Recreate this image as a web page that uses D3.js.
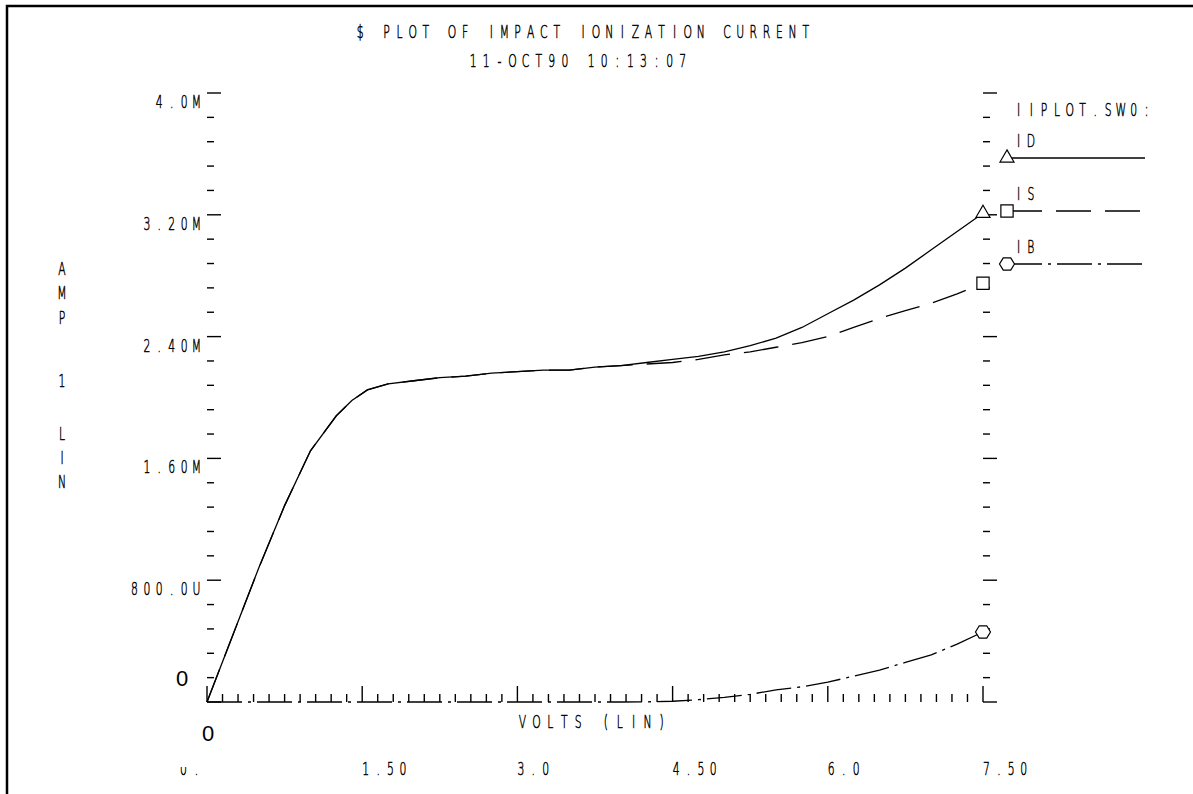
<!DOCTYPE html>
<html>
<head>
<meta charset="utf-8">
<script src="https://cdn.jsdelivr.net/npm/d3@7.9.0/dist/d3.min.js"></script>
<style>
  body { margin: 0; background: #fff; }
  svg { display: block; }
</style>
</head>
<body>
<div id="chart"></div>
<script>
// data (volts, milliamps)
const volts = [0, 0.25, 0.5, 0.75, 1.0, 1.25, 1.4, 1.55, 1.75, 2.0, 2.25, 2.5, 2.75, 3.0, 3.25, 3.5, 3.75,
  4.0, 4.25, 4.5, 4.75, 5.0, 5.25, 5.5, 5.75, 6.0, 6.25, 6.5, 6.75, 7.0, 7.25, 7.5];
const idVals = [0, 0.44, 0.88, 1.29, 1.65, 1.88, 1.98, 2.05, 2.09, 2.11, 2.13, 2.14, 2.16, 2.17, 2.18, 2.18, 2.20,
  2.21, 2.23, 2.25, 2.27, 2.30, 2.34, 2.39, 2.46, 2.55, 2.64, 2.74, 2.85, 2.97, 3.09, 3.21];
const isVals = [0, 0.44, 0.88, 1.29, 1.65, 1.88, 1.98, 2.05, 2.09, 2.11, 2.13, 2.14, 2.16, 2.17, 2.18, 2.18, 2.20,
  2.21, 2.22, 2.23, 2.25, 2.28, 2.30, 2.33, 2.36, 2.40, 2.46, 2.52, 2.57, 2.62, 2.68, 2.75];
const ibVals = [0, 0, 0, 0, 0, 0, 0, 0, 0, 0, 0, 0, 0, 0, 0, 0, 0,
  0, 0.001, 0.005, 0.015, 0.03, 0.05, 0.08, 0.10, 0.13, 0.17, 0.21, 0.26, 0.31, 0.38, 0.46];

const seriesNames = ["ID", "IS", "IB"];
const xTicks = [0, 1.5, 3.0, 4.5, 6.0, 7.5];
const xTickLabels = ["0.", "1.50", "3.0", "4.50", "6.0", "7.50"];
const yTicks = [0, 0.8, 1.6, 2.4, 3.2, 4.0];
const yTickLabels = ["0", "800.0U", "1.60M", "2.40M", "3.20M", "4.0M"];
const yTitle = ["A", "M", "P", "1", "L", "I", "N"];
const yTitlePos = [275, 299, 324, 387, 440, 464, 488];

const W = 1193, H = 794;
const plotLeft = 207, plotRight = 983, plotTop = 93, plotBottom = 702;

const svg = d3.select("#chart").append("svg")
    .attr("width", W)
    .attr("height", H);

// page frame (only top and left edges show)
svg.append("rect")
    .attr("x", 7).attr("y", 6)
    .attr("width", W + 20).attr("height", H + 20)
    .attr("fill", "none")
    .attr("stroke", "#000")
    .attr("stroke-width", 2.5);

const x = d3.scaleLinear().domain([0, 7.5]).range([plotLeft, plotRight]);
const y = d3.scaleLinear().domain([0, 4.0]).range([plotBottom, plotTop]);

// plotter-like lettering: thin narrow glyphs on a fixed pitch
function plotText(parent, str, px, py, anchor, pitch) {
  const s = 0.6, charW = 7;
  const n = str.length;
  const total = (n - 1) * pitch + charW;
  let start = px;
  if (anchor === "end") start = px - total;
  if (anchor === "middle") start = px - total / 2;
  const xs = d3.range(n).map(i => ((start + i * pitch + charW / 2) / s).toFixed(2));
  return parent.append("text")
      .attr("transform", `translate(0,${py}) scale(${s},1)`)
      .attr("x", xs.join(" "))
      .attr("font-family", "DejaVu Sans")
      .attr("font-weight", 200)
      .attr("font-size", 18)
      .attr("text-anchor", "middle")
      .attr("fill", "#000")
      .attr("stroke", "#000")
      .attr("stroke-width", 0.45)
      .attr("vector-effect", "non-scaling-stroke")
      .text(str);
}

// title
plotText(svg, "$ PLOT OF IMPACT IONIZATION CURRENT", 583, 38, "middle", 13.1);
plotText(svg, "11-OCT90 10:13:07", 578, 67, "middle", 13.1);

// axis ticks
const tickG = svg.append("g").attr("stroke", "#000").attr("stroke-width", 1.4);
const yMinor = d3.range(0, 4.0001, 0.16);
tickG.selectAll(".yl").data(yMinor).join("line").attr("class", "yl")
    .attr("x1", plotLeft).attr("x2", (d, i) => plotLeft + (i % 5 === 0 ? 14 : 7))
    .attr("y1", d => y(d)).attr("y2", d => y(d));
tickG.selectAll(".yr").data(yMinor).join("line").attr("class", "yr")
    .attr("x1", plotRight).attr("x2", (d, i) => plotRight + (i % 5 === 0 ? 14 : 7))
    .attr("y1", d => y(d)).attr("y2", d => y(d));
const xMinor = d3.range(0, 7.5001, 0.15);
tickG.selectAll(".xb").data(xMinor).join("line").attr("class", "xb")
    .attr("x1", d => x(d)).attr("x2", d => x(d))
    .attr("y1", plotBottom).attr("y2", (d, i) => plotBottom - (i % 10 === 0 ? 16 : 8));

// y tick labels (zero handled by the overlay below)
yTicks.forEach((v, i) => {
  if (i === 0) return;
  plotText(svg, yTickLabels[i], 200, y(v) + 15, "end", 12.4);
});

// x tick labels; the first one is half cut off in the original
svg.append("clipPath").attr("id", "cut")
  .append("rect").attr("x", 170).attr("y", 767).attr("width", 40).attr("height", 20);
const cutG = svg.append("g").attr("clip-path", "url(#cut)");
xTicks.forEach((v, i) => {
  if (i === 0) plotText(cutG, xTickLabels[i], 180, 775, "start", 13);
  else plotText(svg, xTickLabels[i], x(v), 775, "start", 12.4);
});

// axis titles
plotText(svg, "VOLTS (LIN)", 592, 728, "middle", 13.9);
yTitle.forEach((ch, i) => {
  plotText(svg, ch, 62, yTitlePos[i], "middle", 12.4);
});

// overlay zero labels
svg.append("text").attr("x", 182).attr("y", 686)
    .attr("font-family", "Liberation Sans, Arial").attr("font-size", 22)
    .attr("text-anchor", "middle").text("0");
svg.append("text").attr("x", 208).attr("y", 741)
    .attr("font-family", "Liberation Sans, Arial").attr("font-size", 22)
    .attr("text-anchor", "middle").text("0");

// curves
const dashes = ["none", "35,14", "35,6,3,6"];
const series = [idVals, isVals, ibVals];
const line = d3.line().x((d, i) => x(volts[i])).y(d => y(d));

svg.append("g").selectAll("path").data(series).join("path")
    .attr("d", d => line(d))
    .attr("fill", "none")
    .attr("stroke", "#000")
    .attr("stroke-width", 1.3)
    .attr("stroke-dasharray", (d, i) => dashes[i]);

// markers
function hexPath(r) {
  const pts = d3.range(6).map(k => {
    const a = Math.PI / 3 * k;
    return [r * Math.cos(a), r * 0.95 * Math.sin(a)];
  });
  return "M" + pts.join("L") + "Z";
}
const symbols = [
  () => d3.symbol().type(d3.symbolTriangle).size(85)(),
  () => d3.symbol().type(d3.symbolSquare).size(150)(),
  () => hexPath(7.5)
];
function marker(i, px, py) {
  svg.append("path")
      .attr("d", symbols[i]())
      .attr("transform", `translate(${px},${py})`)
      .attr("fill", "#fff")
      .attr("stroke", "#000")
      .attr("stroke-width", 1.2);
}

// legend
plotText(svg, "IIPLOT.SW0:", 1015, 116, "start", 12.8);
seriesNames.forEach((name, i) => {
  const ly = 158 + i * 53;
  plotText(svg, name, 1015, ly - 11, "start", 12.4);
  svg.append("line")
      .attr("x1", 1007).attr("x2", 1145)
      .attr("y1", ly).attr("y2", ly)
      .attr("stroke", "#000").attr("stroke-width", 1.3)
      .attr("stroke-dasharray", dashes[i]);
  marker(i, 1007, ly);
});

// end-of-curve markers
series.forEach((vals, i) => {
  const last = vals.length - 1;
  marker(i, x(volts[last]), y(vals[last]));
});
</script>
</body>
</html>
